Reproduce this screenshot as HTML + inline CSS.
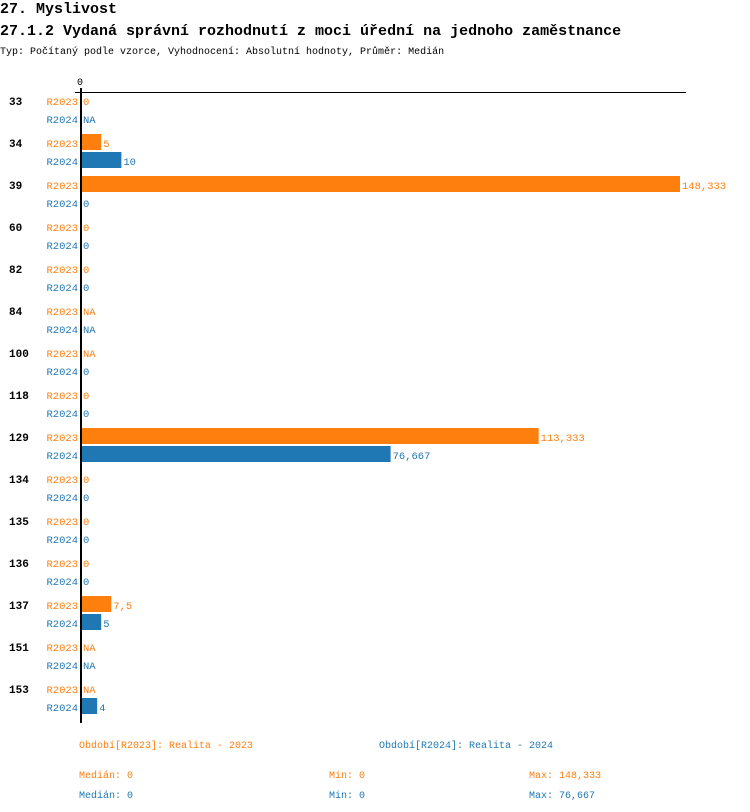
<!DOCTYPE html>
<html><head><meta charset="utf-8"><style>
body{margin:0;background:#fff;width:750px;height:812px;overflow:hidden}
svg{display:block}
text{font-family:"Liberation Mono",monospace;font-size:10.5px}
.o{fill:#ff7f0e}.b{fill:#1f77b4}
</style></head><body>
<svg width="750" height="812" xmlns="http://www.w3.org/2000/svg">
<text x="0" y="13" style="font-size:15px;font-weight:bold">27. Myslivost</text>
<text x="0" y="35" style="font-size:15px;font-weight:bold">27.1.2 Vydaná správní rozhodnutí z moci úřední na jednoho zaměstnance</text>
<text x="0" y="54" style="font-size:10px">Typ: Počítaný podle vzorce, Vyhodnocení: Absolutní hodnoty, Průměr: Medián</text>
<text x="77" y="85" style="font-size:10px">0</text>
<line x1="75" y1="92.5" x2="686" y2="92.5" stroke="#000" stroke-width="1"/>
<line x1="81" y1="88" x2="81" y2="723" stroke="#000" stroke-width="2"/>
<g id="rows"></g>
<text x="79" y="748" class="o" style="font-size:10px">Období[R2023]: Realita - 2023</text>
<text x="379" y="748" class="b" style="font-size:10px">Období[R2024]: Realita - 2024</text>
<text x="79" y="778" class="o" style="font-size:10px">Medián: 0</text>
<text x="329" y="778" class="o" style="font-size:10px">Min: 0</text>
<text x="529" y="778" class="o" style="font-size:10px">Max: 148,333</text>
<text x="79" y="798" class="b" style="font-size:10px">Medián: 0</text>
<text x="329" y="798" class="b" style="font-size:10px">Min: 0</text>
<text x="529" y="798" class="b" style="font-size:10px">Max: 76,667</text>
</svg>
<script>
var d=[["33","0","NA"],["34","5","10"],["39","148,333","0"],["60","0","0"],["82","0","0"],["84","NA","NA"],["100","NA","0"],["118","0","0"],["129","113,333","76,667"],["134","0","0"],["135","0","0"],["136","0","0"],["137","7,5","5"],["151","NA","NA"],["153","NA","4"]];
var s=599/148.333,h="";
d.forEach(function(r,i){
 var y1=101+42*i,y2=119+42*i;
 h+='<text x="9" y="'+(y1+4)+'" style="font-weight:bold;font-size:11px">'+r[0]+'</text>';
 [[r[1],y1,"o","#ff7f0e","R2023"],[r[2],y2,"b","#1f77b4","R2024"]].forEach(function(q){
  h+='<text x="78" y="'+(q[1]+4)+'" text-anchor="end" class="'+q[2]+'">'+q[4]+'</text>';
  var v=q[0]=="NA"?0:parseFloat(q[0].replace(",","."));
  var w=v*s;
  if(w>0)h+='<rect x="82" y="'+(q[1]-9)+'" width="'+(w-1)+'" height="16" fill="'+q[3]+'"/>';
  h+='<text x="'+(83+w)+'" y="'+(q[1]+4)+'" class="'+q[2]+'">'+q[0]+'</text>';
 });
});
document.getElementById("rows").outerHTML=h;
</script>
</body></html>
